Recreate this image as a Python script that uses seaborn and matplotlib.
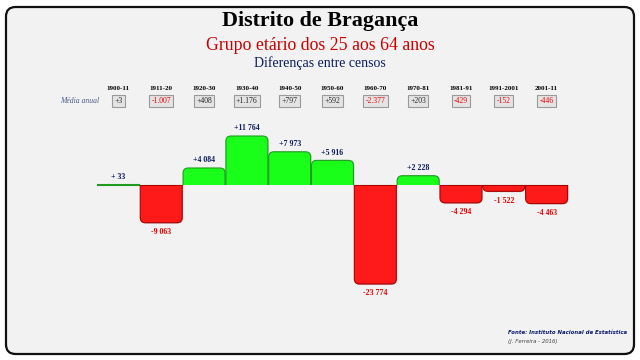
import matplotlib
matplotlib.use("Agg")
import matplotlib.pyplot as plt
import matplotlib.transforms as mtransforms
from matplotlib.patches import FancyBboxPatch, Rectangle
import seaborn as sns

# dados
periodos = ["1900-11", "1911-20", "1920-30", "1930-40", "1940-50", "1950-60",
            "1960-70", "1970-81", "1981-91", "1991-2001", "2001-11"]
diferencas = [33, -9063, 4084, 11764, 7973, 5916, -23774, 2228, -4294, -1522, -4463]
rotulos = ["+ 33", "-9 063", "+4 084", "+11 764", "+7 973", "+5 916",
           "-23 774", "+2 228", "-4 294", "-1 522", "-4 463"]
media_anual = ["+3", "-1.007", "+408", "+1.176", "+797", "+592",
               "-2.377", "+203", "-429", "-152", "-446"]

sinal = ["pos" if v >= 0 else "neg" for v in diferencas]
verde, verde_borda = "#19ff19", "#1f9a1f"
vermelho, vermelho_borda = "#ff1a1a", "#a80000"
navy = "#0a1a5c"
serif = "Liberation Serif"

fig = plt.figure(figsize=(6.4, 3.6), dpi=100)
fig.patch.set_facecolor("white")

# moldura arredondada
moldura = FancyBboxPatch((6 / 640, 6 / 360), 628 / 640, 347 / 360,
                         boxstyle="round,pad=0,rounding_size=0.015",
                         transform=fig.transFigure, facecolor="#f2f2f2",
                         edgecolor="#111111", linewidth=1.6, mutation_aspect=640 / 360,
                         zorder=-10)
fig.patches.append(moldura)

ax = fig.add_axes([97 / 640, 1 - 300 / 360, 471 / 640, 190 / 360])
ax.patch.set_alpha(0)
sns.barplot(x=periodos, y=diferencas, hue=sinal, palette={"pos": verde, "neg": vermelho},
            dodge=False, legend=False, width=0.98, ax=ax)
ax.set_ylim(-27611, 18007)
ax.set_xlim(-0.5, 10.5)
ax.axis("off")

# trocar barras por versoes com cantos arredondados
rx = 0.12
px_x = 471 / 11                  # pixeis por unidade x
px_y = 190 / (18007 + 27611)     # pixeis por unidade y
asp = px_x / px_y                # unidades y equivalentes a uma unidade x
for p in list(ax.patches):
    x0, w, h = p.get_x(), p.get_width(), p.get_height()
    p.set_visible(False)
    pos = h >= 0
    cor = verde if pos else vermelho
    borda = verde_borda if pos else vermelho_borda
    if abs(h) < 500:
        ax.plot([x0, x0 + w], [0, 0], color=verde_borda, lw=1.5)
        continue
    ext = rx * asp * 2
    if pos:
        y0, hh = -ext, h + ext
        clip = Rectangle((x0 - 1, 0), w + 2, 1e6, transform=ax.transData)
    else:
        y0, hh = h, -h + ext
        clip = Rectangle((x0 - 1, -1e6), w + 2, 1e6, transform=ax.transData)
    # sombra leve
    sombra = FancyBboxPatch((x0 + 0.02, y0 - (asp * 0.02 if not pos else 0)), w, hh,
                            boxstyle=f"round,pad=0,rounding_size={rx}",
                            mutation_aspect=asp, facecolor="#c8c8c8", edgecolor="none",
                            zorder=1)
    ax.add_patch(sombra)
    sombra.set_clip_path(clip)
    fb = FancyBboxPatch((x0, y0), w, hh, boxstyle=f"round,pad=0,rounding_size={rx}",
                        mutation_aspect=asp, facecolor=cor, edgecolor=borda, linewidth=0.8,
                        zorder=2)
    ax.add_patch(fb)
    fb.set_clip_path(clip)
    if not pos:
        ax.plot([x0, x0 + w], [0, 0], color=borda, lw=0.8, zorder=3)

# rotulos dos valores
for i, (v, r) in enumerate(zip(diferencas, rotulos)):
    if v >= 0:
        ax.text(i, v + 900, r, ha="center", va="bottom", fontsize=5.7,
                color=navy, family=serif, fontweight="bold")
    else:
        ax.text(i, v - 1300, r, ha="center", va="top", fontsize=5.7,
                color="#ee0000", family=serif, fontweight="bold")

# periodos e media anual
tr = mtransforms.blended_transform_factory(ax.transData, fig.transFigure)
for i, (per, m) in enumerate(zip(periodos, media_anual)):
    ax.text(i, 1 - 88 / 360, per, transform=tr, ha="center", va="center",
            fontsize=5, family=serif, fontweight="bold", color="black")
    ax.text(i, 1 - 101 / 360, m, transform=tr, ha="center", va="center",
            fontsize=5.5, family=serif, color="#ee0000" if m.startswith("-") else "#222222",
            bbox=dict(boxstyle="square,pad=0.3", facecolor="#e4e4e4",
                      edgecolor="#9a9a9a", linewidth=0.8))
fig.text(80 / 640, 1 - 101 / 360, "Média anual", ha="center", va="center",
         fontsize=5.5, family=serif, style="italic", color="#4a5a8a")

# titulos
fig.text(0.5, 1 - 21 / 360, "Distrito de Bragança", ha="center", va="center",
         fontsize=15.8, family=serif, fontweight="bold", color="black")
fig.text(0.5, 1 - 45 / 360, "Grupo etário dos 25 aos 64 anos", ha="center", va="center",
         fontsize=12.8, family=serif, color="#cc0000")
fig.text(0.5, 1 - 63 / 360, "Diferenças entre censos", ha="center", va="center",
         fontsize=10, family=serif, color=navy)

# fonte
fig.text(508 / 640, 1 - 333 / 360, "Fonte: Instituto Nacional de Estatística",
         ha="left", va="center", fontsize=3.9, family="DejaVu Sans",
         fontweight="bold", style="italic", color="#0a1a6e")
fig.text(508 / 640, 1 - 342 / 360, "(J. Ferreira - 2016)", ha="left", va="center",
         fontsize=3.9, family="DejaVu Sans", style="italic", color="#444444")

fig.savefig("out.png", dpi=100, facecolor=fig.get_facecolor())
